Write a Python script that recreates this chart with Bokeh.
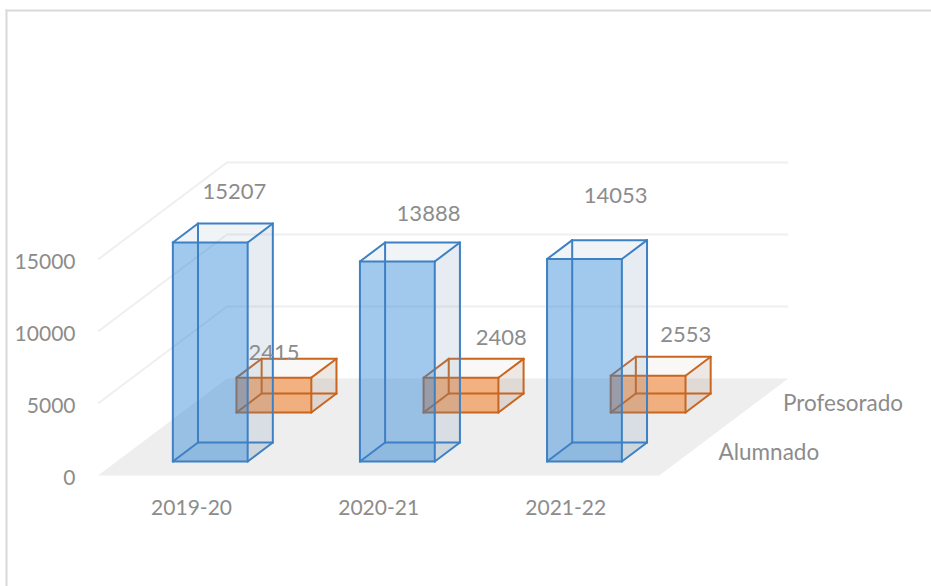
from bokeh.plotting import figure
from bokeh.models import Range1d, LinearAxis, FixedTicker, BoxAnnotation
from bokeh.core.properties import value
from bokeh.embed import file_html
from bokeh.resources import INLINE

# ---- data ----
categories = ["2019-20", "2020-21", "2021-22"]
alumnado = [15207, 13888, 14053]
profesorado = [2415, 2408, 2553]
series_names = ["Alumnado", "Profesorado"]
value_ticks = [0, 5000, 10000, 15000]

# ---- oblique projection and styles ----
PX_PER_CAT = 187.1
PX_PER_UNIT = 0.0144
DX_PER_Z = 64.5 / PX_PER_CAT
DY_PER_Z = 48.5 / PX_PER_UNIT
FONT = "Lato"
TEXT = "#8c8c8c"
GREY = "#efefef"


def P(c, z, v):
    return c + DX_PER_Z * z, v + DY_PER_Z * z


X0, Y0 = 97.5, 475  # page position of the floor's front-left corner
W, H_ = 931, 586
AXIS_X, AXIS_Y = 82, 476  # page position of the value and category axes
LABEL_DROP = 1.5  # px the value axis's labels sit below the gridlines' ends

p = figure(
    width=W, height=H_, output_backend="svg", toolbar_location=None,
    x_range=Range1d((0 - X0) / PX_PER_CAT, (W - X0) / PX_PER_CAT),
    y_range=Range1d((Y0 - H_) / PX_PER_UNIT, (Y0 - 0) / PX_PER_UNIT),
    x_axis_location=None, y_axis_location=None,
    min_border_left=0, min_border_right=0, min_border_top=0, min_border_bottom=0,
    outline_line_color=None, background_fill_color="white", border_fill_color="white",
)
p.grid.visible = False
p.extra_y_ranges = {"labels": Range1d((Y0 + LABEL_DROP - H_) / PX_PER_UNIT, (Y0 + LABEL_DROP) / PX_PER_UNIT)}

# axes, fixed at their places inside the picture
ya = LinearAxis(ticker=FixedTicker(ticks=value_ticks), y_range_name="labels",
                fixed_location=(AXIS_X - X0) / PX_PER_CAT)
xa = LinearAxis(
    ticker=FixedTicker(ticks=[i + 0.5 for i in range(len(categories))]),
    major_label_overrides={i + 0.5: c for i, c in enumerate(categories)},
    fixed_location=(Y0 - AXIS_Y) / PX_PER_UNIT,
)
for a, standoff, size in ((ya, 1, "21px"), (xa, 17, "21px")):
    a.axis_line_color = None
    a.major_tick_line_color = None
    a.minor_tick_line_color = None
    a.major_label_text_font = FONT
    a.major_label_text_font_size = size
    a.major_label_text_color = TEXT
    a.major_label_standoff = standoff
ya.formatter.use_scientific = False
p.add_layout(ya, "left")
p.add_layout(xa, "below")

# floor
n = len(categories)
corners = [P(0, 0, 0), P(n, 0, 0), P(n, 2, 0), P(0, 2, 0)]
p.patch([c[0] for c in corners], [c[1] for c in corners], fill_color="#eeeeee", line_color=None)

# gridlines on the side and back walls
for t in value_ticks[1:]:
    a, b, c = P(0, 0, t), P(0, 2, t), P(n, 2, t)
    p.line([a[0], b[0], c[0]], [a[1], b[1], c[1]], line_color=GREY, line_width=2)


def box(c0, c1, z0, z1, v, front, front_a, side, side_a, top_a, edge):
    """Draws one translucent cuboid from a category span, a depth span and its value."""
    A, B, C, D = P(c0, z0, 0), P(c1, z0, 0), P(c1, z1, 0), P(c0, z1, 0)
    E, F, G, H = P(c0, z0, v), P(c1, z0, v), P(c1, z1, v), P(c0, z1, v)
    faces = [
        ([A, B, C, D], side, top_a),
        ([B, C, G, F], side, side_a),
        ([E, F, G, H], side, top_a),
        ([A, B, F, E], front, front_a),
    ]
    for pts, col, al in faces:
        p.patch([q[0] for q in pts], [q[1] for q in pts], fill_color=col, fill_alpha=al, line_color=None)
    edges = [(D, C), (D, H), (C, G), (H, G), (A, D), (B, C), (E, H), (F, G), (A, B), (E, F), (A, E), (B, F)]
    p.multi_line([[s[0], e[0]] for s, e in edges], [[s[1], e[1]] for s, e in edges],
                 line_color=edge, line_width=2, line_cap="round", line_join="round")
    return G, H


HALF = 0.2
BLUE_Z = (0.29, 0.68)
ORANGE_Z = (1.30, 1.69)
ORANGE_SHIFT = -0.008

tops_o = []
for i, v in enumerate(profesorado):
    cc = i + 0.5 + ORANGE_SHIFT
    G, H = box(cc - HALF, cc + HALF, *ORANGE_Z, v, "#f68739", 0.60, "#a08070", 0.18, 0.06, "#c8651e")
    tops_o.append(((G[0] + H[0]) / 2, G[1]))

tops_b = []
for i, v in enumerate(alumnado):
    cc = i + 0.5
    G, H = box(cc - HALF, cc + HALF, *BLUE_Z, v, "#2e86d8", 0.45, "#7396b4", 0.18, 0.10, "#3d80c4")
    tops_b.append(((G[0] + H[0]) / 2, G[1]))

# data labels (offsets from the top back edge of each bar, in px)
blue_off = [(-1, 32), (6, 29), (6, 45)]
orange_off = [(-25, 6), (15, 21), (12.5, 22)]
for tops, vals, off in ((tops_b, alumnado, blue_off), (tops_o, profesorado, orange_off)):
    p.text([t[0] for t in tops], [t[1] for t in tops], text=[str(v) for v in vals],
           x_offset=[o[0] for o in off], y_offset=[-o[1] for o in off],
           text_align="center", text_baseline="middle", text_font=value(FONT),
           text_font_size=value("22px"), text_color=TEXT)

# depth-axis labels
for name, z, dx in zip(series_names, (0.5, 1.5), (27, 27)):
    x, y = P(n, z, 0)
    p.text([x], [y], text=[name], x_offset=[dx], text_align="left", text_baseline="middle",
           text_font=value(FONT), text_font_size=value("22.5px"), text_color=TEXT)

# the picture's frame: top and left rules (screen units run from the frame's bottom-left corner)
RULE = "#d9d9d9"
for l, r, b, t in ((5, W, H_ - 11, H_ - 9), (5, 7, 0, H_ - 9)):
    p.add_layout(BoxAnnotation(left=l, right=r, bottom=b, top=t, left_units="screen", right_units="screen",
                               top_units="screen", bottom_units="screen", fill_color=RULE, fill_alpha=1,
                               line_color=None))

open("out.html", "w").write(file_html(p, INLINE))
